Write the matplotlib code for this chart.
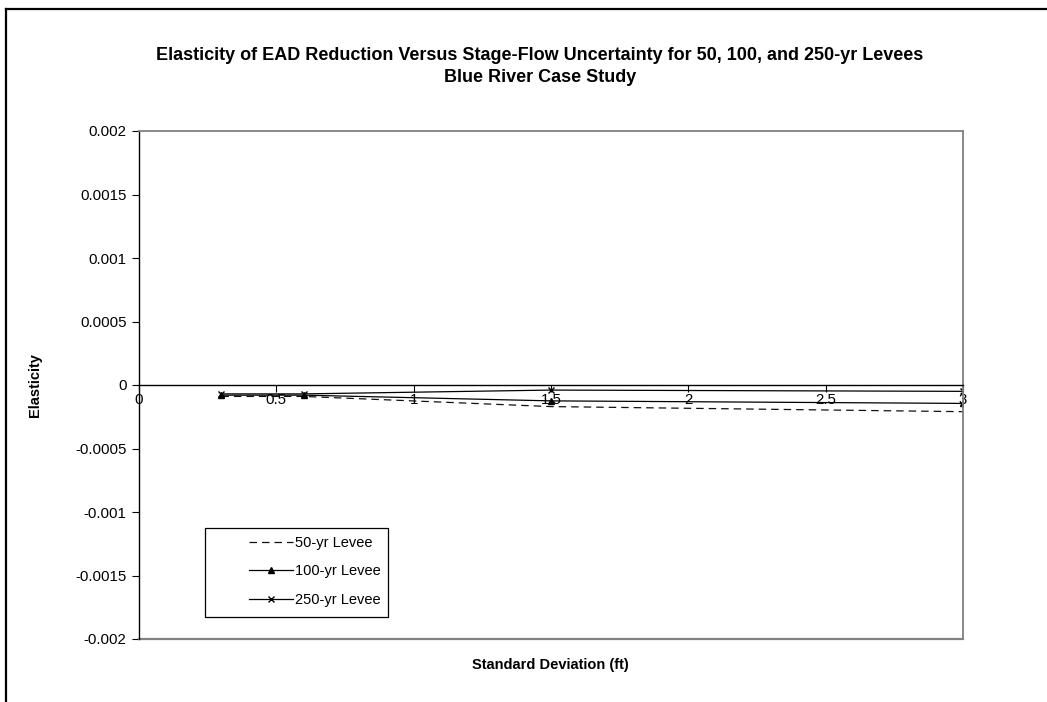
import matplotlib
matplotlib.use("Agg")
import matplotlib.pyplot as plt
from matplotlib.lines import Line2D
from matplotlib.patches import Rectangle

plt.rcParams['font.family'] = ['Liberation Sans', 'DejaVu Sans']

# Data
std_dev = [0.3, 0.6, 1.5, 3.0]
levee_50 = [-0.00009, -0.00009, -0.00017, -0.00021]
levee_100 = [-0.00008, -0.00008, -0.000125, -0.000145]
levee_250 = [-0.00007, -0.00007, -0.00004, -0.00005]
series_names = ["50-yr Levee", "100-yr Levee", "250-yr Levee"]
x_ticks = [0, 0.5, 1, 1.5, 2, 2.5, 3]
x_tick_labels = ["0", "0.5", "1", "1.5", "2", "2.5", "3"]
y_ticks = [0.002, 0.0015, 0.001, 0.0005, 0, -0.0005, -0.001, -0.0015, -0.002]
y_tick_labels = ["0.002", "0.0015", "0.001", "0.0005", "0", "-0.0005", "-0.001", "-0.0015", "-0.002"]

W, H = 1047, 702
fig = plt.figure(figsize=(W / 100, H / 100), dpi=100)

# outer frame (top & left visible)
fig.add_artist(Line2D([6 / W, 6 / W], [0, 1 - 9 / H], transform=fig.transFigure, color='black', lw=1.6))
fig.add_artist(Line2D([6 / W, 1], [1 - 9 / H, 1 - 9 / H], transform=fig.transFigure, color='black', lw=1.6))

left, right, top, bottom = 139, 963, 131, 639
pw, ph = right - left, bottom - top
ax = fig.add_axes([left / W, 1 - bottom / H, pw / W, ph / H])

ax.plot(std_dev, levee_50, color='#111111', lw=0.9, linestyle=(0, (6, 4)), label=series_names[0])
ax.plot(std_dev, levee_100, color='black', lw=0.9, marker='^', markersize=5, label=series_names[1])
ax.plot(std_dev, levee_250, color='black', lw=0.9, marker='x', markersize=5, markeredgewidth=1.0, label=series_names[2])

ax.set_xlim(0, 3)
ax.set_ylim(-0.002, 0.002)

# gray plot-area frame
for s in ['top', 'right']:
    ax.spines[s].set_color('#808080')
    ax.spines[s].set_linewidth(1.3)
ax.add_artist(Line2D([0, 1], [0, 0], transform=ax.transAxes, color='#808080', lw=1.6, clip_on=False))
ax.spines['left'].set_color('black')
ax.spines['left'].set_linewidth(1.0)
ax.spines['bottom'].set_position(('data', 0))
ax.spines['bottom'].set_color('black')
ax.spines['bottom'].set_linewidth(1.0)

ax.set_xticks(x_ticks)
ax.set_xticklabels(x_tick_labels)
ax.set_yticks(y_ticks)
ax.set_yticklabels(y_tick_labels)
ax.tick_params(axis='x', direction='out', length=5, width=0.8, pad=1, labelsize=10.8)
ax.tick_params(axis='y', direction='out', length=5, width=0.8, pad=4, labelsize=10.8)

fig.text(35 / W, 1 - 385 / H, "Elasticity", rotation=90, ha='center', va='center',
         fontsize=10.5, fontweight='bold')
fig.text(550 / W, 1 - 665 / H, "Standard Deviation (ft)", ha='center', va='center',
         fontsize=10.5, fontweight='bold')
fig.text(540 / W, 1 - 55 / H, "Elasticity of EAD Reduction Versus Stage-Flow Uncertainty for 50, 100, and 250-yr Levees",
         ha='center', va='center', fontsize=13, fontweight='bold')
fig.text(540 / W, 1 - 78 / H, "Blue River Case Study",
         ha='center', va='center', fontsize=13, fontweight='bold')

# legend (entries) and its box
leg = ax.legend(loc='center left', bbox_to_anchor=((249 - left) / pw, (bottom - 571.5) / ph),
                frameon=False, fontsize=10.5,
                handlelength=3.0, handletextpad=0.15, labelspacing=0.98,
                borderpad=0, borderaxespad=0)
ax.add_patch(Rectangle(((205 - left) / pw, (bottom - 617) / ph), (388 - 205) / pw, (617 - 528) / ph,
                       transform=ax.transAxes, fill=True, facecolor='white', edgecolor='black',
                       lw=0.9, zorder=4))
leg.set_zorder(5)

fig.savefig("out.png", dpi=100)
